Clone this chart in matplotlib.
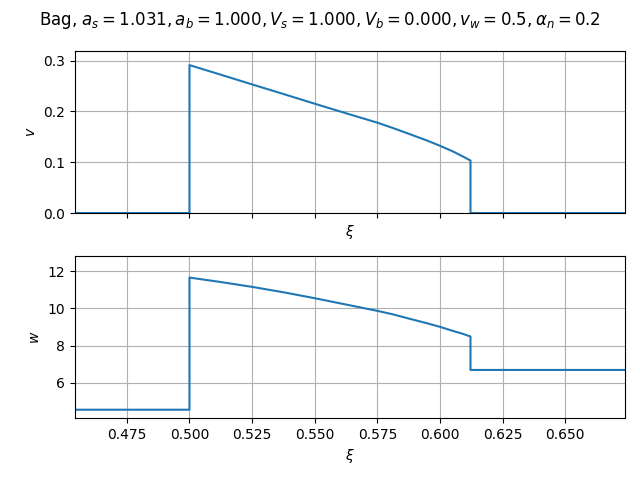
import matplotlib
matplotlib.use("Agg")
import matplotlib.pyplot as plt

# profile (wall at 0.5, shock at ~0.6122)
xi = [0.4543, 0.5, 0.5, 0.5125, 0.525, 0.5375, 0.55, 0.5625, 0.575,
      0.5813, 0.588, 0.5946, 0.6, 0.6052, 0.6092, 0.6122, 0.6122, 0.674]
v = [0.0, 0.0, 0.2913, 0.2724, 0.2533, 0.2344, 0.2153, 0.1965, 0.1780,
     0.1673, 0.1553, 0.1433, 0.1325, 0.1213, 0.1113, 0.1035, 0.0, 0.0]
w = [4.55, 4.55, 11.66, 11.42, 11.16, 10.87, 10.55, 10.21, 9.87,
     9.68, 9.44, 9.21, 9.01, 8.79, 8.63, 8.49, 6.69, 6.69]

title = (r"Bag, $a_s = 1.031, a_b = 1.000, V_s = 1.000, V_b = 0.000, "
         r"v_w = 0.5, \alpha_n = 0.2$")

fig, (ax1, ax2) = plt.subplots(2, 1, sharex=True, figsize=(6.4, 4.8), dpi=100)

ax1.plot(xi, v)
ax1.set_ylabel(r"$v$")
ax1.set_xlabel(r"$\xi$")
ax1.set_ylim(0, 0.319)
ax1.grid(True)

ax2.plot(xi, w)
ax2.set_ylabel(r"$w$")
ax2.set_xlabel(r"$\xi$")
ax2.set_ylim(4.10, 12.82)
ax2.set_xlim(0.4543, 0.6739)
ax2.grid(True)

fig.suptitle(title)
fig.subplots_adjust(left=0.1172, right=0.9766, top=0.8937, bottom=0.129, hspace=0.265)
fig.savefig("out.png")
